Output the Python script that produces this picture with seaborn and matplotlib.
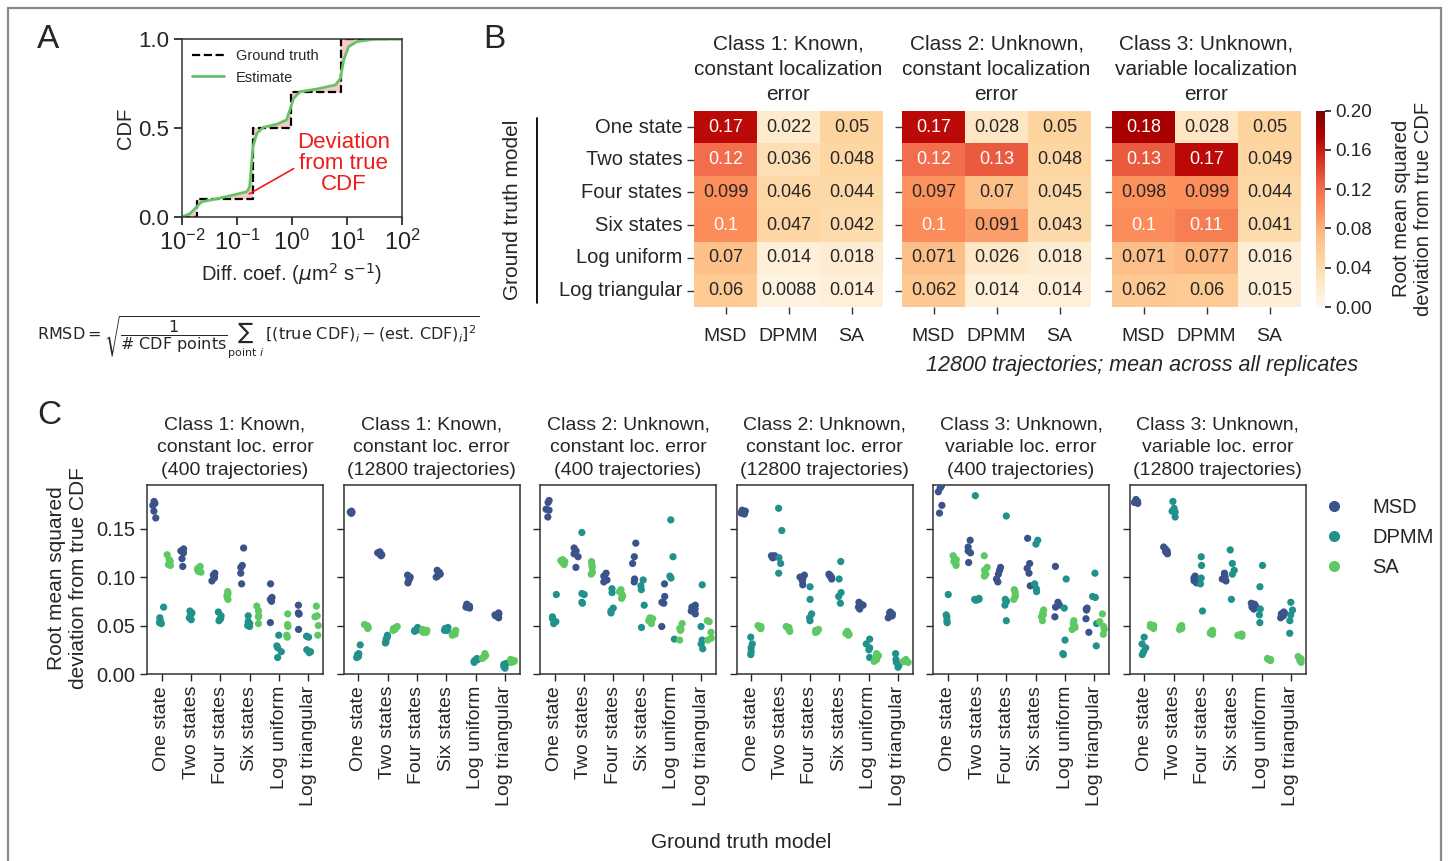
import numpy as np
import pandas as pd
import matplotlib
matplotlib.use("Agg")
import matplotlib.pyplot as plt
import seaborn as sns
from matplotlib.patches import Rectangle
from matplotlib.lines import Line2D

# ---------------- data ----------------
# Panel A: ground-truth step CDF and estimated CDF
gt_x = [0.01, 0.019, 0.195, 0.96, 7.8, 100]
gt_y = [0.0, 0.1, 0.5, 0.7, 1.0, 1.0]
est_x = [0.01, 0.0141, 0.0186, 0.0229, 0.038, 0.087, 0.151, 0.170, 0.178, 0.195,
         0.229, 0.302, 0.537, 0.794, 0.912, 1.07, 1.41, 2.82, 6.17, 7.59, 8.71,
         10.7, 15.1, 30.2, 100]
est_y = [0.0, 0.02, 0.058, 0.086, 0.099, 0.124, 0.142, 0.17, 0.245, 0.395,
         0.47, 0.504, 0.522, 0.545, 0.60, 0.667, 0.704, 0.719, 0.742, 0.779, 0.882,
         0.957, 0.985, 0.998, 1.0]

# Panel B: mean RMSD heatmaps (12800 trajectories)
models = ['One state', 'Two states', 'Four states', 'Six states', 'Log uniform', 'Log triangular']
methods = ['MSD', 'DPMM', 'SA']
hm_class1 = [[0.17, 0.022, 0.05], [0.12, 0.036, 0.048], [0.099, 0.046, 0.044],
             [0.1, 0.047, 0.042], [0.07, 0.014, 0.018], [0.06, 0.0088, 0.014]]
hm_class2 = [[0.17, 0.028, 0.05], [0.12, 0.13, 0.048], [0.097, 0.07, 0.045],
             [0.1, 0.091, 0.043], [0.071, 0.026, 0.018], [0.062, 0.014, 0.014]]
hm_class3 = [[0.18, 0.028, 0.05], [0.13, 0.17, 0.049], [0.098, 0.099, 0.044],
             [0.1, 0.11, 0.041], [0.071, 0.077, 0.016], [0.062, 0.06, 0.015]]
hm_titles = ['Class 1: Known,\nconstant localization\nerror',
             'Class 2: Unknown,\nconstant localization\nerror',
             'Class 3: Unknown,\nvariable localization\nerror']

# Panel C: per-replicate RMSD (rows = ground truth models, 5 replicates each)
c1_400_msd = [[0.178, 0.176, 0.174, 0.168, 0.161], [0.129, 0.127, 0.125, 0.119, 0.111], [0.104, 0.102, 0.100, 0.099, 0.096],
              [0.130, 0.112, 0.110, 0.104, 0.093], [0.093, 0.079, 0.077, 0.075, 0.053], [0.071, 0.063, 0.062, 0.062, 0.046]]
c1_400_dpmm = [[0.069, 0.058, 0.055, 0.053, 0.052], [0.065, 0.063, 0.061, 0.058, 0.056], [0.064, 0.060, 0.057, 0.056, 0.055],
               [0.060, 0.054, 0.052, 0.050, 0.049], [0.040, 0.029, 0.027, 0.023, 0.017], [0.039, 0.038, 0.025, 0.023, 0.022]]
c1_400_sa = [[0.123, 0.118, 0.116, 0.113, 0.112], [0.111, 0.109, 0.108, 0.106, 0.105], [0.085, 0.083, 0.081, 0.079, 0.077],
             [0.070, 0.065, 0.060, 0.059, 0.052], [0.062, 0.051, 0.049, 0.040, 0.038], [0.070, 0.060, 0.059, 0.050, 0.040]]

c1_12800_msd = [[0.168, 0.167, 0.167, 0.166, 0.166], [0.126, 0.125, 0.124, 0.123, 0.122], [0.102, 0.100, 0.099, 0.097, 0.094],
                [0.107, 0.105, 0.103, 0.101, 0.100], [0.072, 0.071, 0.070, 0.069, 0.068], [0.063, 0.062, 0.061, 0.060, 0.058]]
c1_12800_dpmm = [[0.030, 0.021, 0.020, 0.018, 0.017], [0.040, 0.038, 0.036, 0.033, 0.032], [0.048, 0.046, 0.045, 0.045, 0.044],
                 [0.048, 0.047, 0.046, 0.045, 0.045], [0.016, 0.015, 0.014, 0.013, 0.012], [0.011, 0.010, 0.008, 0.007, 0.006]]
c1_12800_sa = [[0.051, 0.050, 0.049, 0.048, 0.047], [0.049, 0.048, 0.047, 0.046, 0.045], [0.046, 0.045, 0.044, 0.043, 0.043],
               [0.045, 0.044, 0.042, 0.041, 0.040], [0.021, 0.019, 0.018, 0.017, 0.016], [0.015, 0.014, 0.013, 0.013, 0.012]]

c2_400_msd = [[0.179, 0.177, 0.170, 0.169, 0.162], [0.130, 0.127, 0.124, 0.121, 0.110], [0.104, 0.101, 0.100, 0.097, 0.095],
              [0.135, 0.121, 0.114, 0.098, 0.095], [0.093, 0.080, 0.074, 0.073, 0.049], [0.071, 0.069, 0.067, 0.065, 0.062]]
c2_400_dpmm = [[0.082, 0.059, 0.057, 0.054, 0.052], [0.146, 0.083, 0.082, 0.074, 0.073], [0.088, 0.084, 0.068, 0.065, 0.063],
               [0.097, 0.091, 0.087, 0.071, 0.048], [0.159, 0.121, 0.101, 0.099, 0.036], [0.092, 0.049, 0.035, 0.031, 0.026]]
c2_400_sa = [[0.118, 0.117, 0.116, 0.115, 0.113], [0.116, 0.113, 0.110, 0.105, 0.103], [0.087, 0.085, 0.082, 0.080, 0.078],
             [0.058, 0.057, 0.056, 0.055, 0.052], [0.052, 0.047, 0.046, 0.045, 0.035], [0.055, 0.054, 0.043, 0.037, 0.035]]

c2_12800_msd = [[0.169, 0.168, 0.167, 0.166, 0.165], [0.122, 0.122, 0.121, 0.120, 0.120], [0.102, 0.100, 0.098, 0.096, 0.092],
                [0.103, 0.102, 0.101, 0.100, 0.098], [0.074, 0.072, 0.071, 0.069, 0.067], [0.064, 0.063, 0.062, 0.060, 0.058]]
c2_12800_dpmm = [[0.038, 0.031, 0.027, 0.023, 0.020], [0.171, 0.148, 0.120, 0.114, 0.104], [0.090, 0.077, 0.062, 0.058, 0.055],
                 [0.116, 0.098, 0.084, 0.080, 0.073], [0.036, 0.031, 0.027, 0.025, 0.017], [0.021, 0.015, 0.012, 0.009, 0.007]]
c2_12800_sa = [[0.050, 0.049, 0.048, 0.047, 0.047], [0.049, 0.048, 0.047, 0.046, 0.044], [0.046, 0.045, 0.044, 0.043, 0.043],
               [0.044, 0.043, 0.042, 0.041, 0.040], [0.021, 0.019, 0.017, 0.015, 0.013], [0.015, 0.014, 0.013, 0.013, 0.012]]

c3_400_msd = [[0.194, 0.192, 0.188, 0.174, 0.166], [0.138, 0.131, 0.127, 0.125, 0.115], [0.110, 0.107, 0.103, 0.098, 0.095],
              [0.140, 0.114, 0.109, 0.104, 0.091], [0.111, 0.074, 0.071, 0.069, 0.059], [0.068, 0.067, 0.066, 0.057, 0.043]]
c3_400_dpmm = [[0.082, 0.061, 0.059, 0.055, 0.053], [0.184, 0.078, 0.077, 0.077, 0.076], [0.163, 0.077, 0.075, 0.071, 0.055],
               [0.138, 0.134, 0.093, 0.088, 0.085], [0.098, 0.068, 0.035, 0.021, 0.020], [0.104, 0.080, 0.079, 0.052, 0.029]]
c3_400_sa = [[0.122, 0.118, 0.116, 0.114, 0.112], [0.122, 0.110, 0.107, 0.103, 0.101], [0.087, 0.085, 0.082, 0.080, 0.077],
             [0.066, 0.063, 0.061, 0.059, 0.055], [0.055, 0.052, 0.050, 0.048, 0.046], [0.062, 0.054, 0.049, 0.046, 0.041]]

c3_12800_msd = [[0.180, 0.179, 0.178, 0.177, 0.176], [0.131, 0.129, 0.127, 0.126, 0.124], [0.101, 0.099, 0.098, 0.096, 0.094],
                [0.104, 0.102, 0.100, 0.098, 0.096], [0.073, 0.072, 0.070, 0.069, 0.067], [0.064, 0.063, 0.062, 0.060, 0.058]]
c3_12800_dpmm = [[0.038, 0.031, 0.027, 0.023, 0.020], [0.178, 0.171, 0.168, 0.167, 0.162], [0.121, 0.112, 0.099, 0.093, 0.065],
                 [0.128, 0.114, 0.107, 0.103, 0.077], [0.112, 0.090, 0.067, 0.061, 0.053], [0.074, 0.066, 0.061, 0.055, 0.042]]
c3_12800_sa = [[0.051, 0.050, 0.049, 0.048, 0.047], [0.050, 0.049, 0.048, 0.047, 0.046], [0.045, 0.044, 0.043, 0.042, 0.041],
               [0.041, 0.041, 0.040, 0.040, 0.039], [0.016, 0.015, 0.015, 0.014, 0.014], [0.018, 0.016, 0.015, 0.014, 0.012]]

c_titles = ['Class 1: Known,\nconstant loc. error\n(400 trajectories)',
            'Class 1: Known,\nconstant loc. error\n(12800 trajectories)',
            'Class 2: Unknown,\nconstant loc. error\n(400 trajectories)',
            'Class 2: Unknown,\nconstant loc. error\n(12800 trajectories)',
            'Class 3: Unknown,\nvariable loc. error\n(400 trajectories)',
            'Class 3: Unknown,\nvariable loc. error\n(12800 trajectories)']

# ---------------- style ----------------
sns.set_theme(style="ticks")
plt.rcParams['font.family'] = ['Liberation Sans', 'DejaVu Sans']
plt.rcParams['axes.edgecolor'] = '#333333'
plt.rcParams['axes.linewidth'] = 1.1
np.random.seed(3)

W, H = 1448, 861
fig = plt.figure(figsize=(W / 100, H / 100), dpi=100)


def px_axes(left, top, width, height):
    return fig.add_axes([left / W, 1 - (top + height) / H, width / W, height / H])


# outer frame
fig.add_artist(Rectangle((8 / W, -0.05), (1441 - 8) / W, 1 - 8 / H + 0.05,
                         transform=fig.transFigure, fill=False, edgecolor='#8a8a8a', lw=1.6))

# panel letters
fig.text(37 / W, 1 - 40 / H, 'A', fontsize=24, va='center', ha='left')
fig.text(483 / W, 1 - 40 / H, 'B', fontsize=24, va='center', ha='left')
fig.text(37 / W, 1 - 415 / H, 'C', fontsize=24, va='center', ha='left')

# ---------------- Panel A ----------------
axA = px_axes(182, 39, 220, 178)
poly_x, poly_y = [], []
for i in range(len(gt_x) - 1):
    poly_x += [gt_x[i], gt_x[i + 1]]
    poly_y += [gt_y[i], gt_y[i]]
poly_x += est_x[::-1]
poly_y += est_y[::-1]
axA.fill(poly_x, poly_y, color='#f4a6a6', alpha=0.6, lw=0)
sns.lineplot(x=gt_x, y=gt_y, drawstyle='steps-post', ls='--', color='black', lw=1.6,
             label='Ground truth', ax=axA, sort=False)
sns.lineplot(x=est_x, y=est_y, color='#66c266', lw=2.0, label='Estimate', ax=axA, sort=False)
axA.set_xscale('log')
axA.set_xlim(0.01, 100)
axA.set_ylim(0, 1)
axA.set_yticks([0, 0.5, 1.0])
axA.set_xticks([0.01, 0.1, 1, 10, 100])
axA.minorticks_off()
axA.tick_params(axis='y', labelsize=16)
axA.tick_params(axis='x', labelsize=17)
axA.set_ylabel('CDF', fontsize=14.5, labelpad=2)
axA.set_xlabel(r'Diff. coef. ($\mu$m$^2$ s$^{-1}$)', fontsize=14.5, labelpad=4)
axA.legend(loc='upper left', frameon=False, fontsize=10.5, handlelength=2.2,
           borderaxespad=0.3, labelspacing=0.5)
axA.annotate('Deviation\nfrom true\nCDF', xy=(0.167, 0.13), xytext=(8.6, 0.30),
             color='#ee1c1c', fontsize=16, ha='center', va='center', linespacing=1.0,
             arrowprops=dict(arrowstyle='-', color='#ee1c1c', lw=1.2, shrinkA=0, shrinkB=0,
                             relpos=(0.0, 0.45)))

fig.text(37 / W, 1 - 338 / H,
         r'$\mathrm{RMSD} = \sqrt{\dfrac{1}{\text{# CDF points}}\sum_{\text{point }i}'
         r'\,[(\text{true CDF})_i - (\text{est. CDF})_i]^2}$',
         fontsize=11.5, va='center', ha='left')

# ---------------- Panel B ----------------
hm_lefts = [694, 902, 1112]
hm_data = [hm_class1, hm_class2, hm_class3]
cax = px_axes(1316, 110.7, 9, 196.3)
for i in range(3):
    ax = px_axes(hm_lefts[i], 110.7, 189, 196.3)
    df = pd.DataFrame(hm_data[i], index=models, columns=methods)
    sns.heatmap(df, ax=ax, cmap='OrRd', vmin=0, vmax=0.2, annot=True, fmt='.2g',
                annot_kws={'fontsize': 13},
                cbar=(i == 2), cbar_ax=cax if i == 2 else None,
                cbar_kws={'ticks': [0, 0.04, 0.08, 0.12, 0.16, 0.20]} if i == 2 else None)
    for t in ax.texts:
        v = float(t.get_text())
        t.set_color('white' if v >= 0.1 else '#262626')
    ax.tick_params(axis='both', length=5, width=1, color='#333333')
    ax.set_xticklabels(methods, rotation=0, fontsize=14)
    if i == 0:
        ax.set_yticklabels(models, rotation=0, fontsize=14.5)
    else:
        ax.set_yticklabels([])
    ax.tick_params(axis='x', pad=10)
    ax.set_xlabel('')
    ax.set_ylabel('')
    ax.set_title(hm_titles[i], fontsize=15, pad=8, linespacing=1.4)

cax.tick_params(length=4)
cax.set_yticklabels(['0.00', '0.04', '0.08', '0.12', '0.16', '0.20'], fontsize=13.5)
cax.set_ylabel('Root mean squared\ndeviation from true CDF', fontsize=14.5, labelpad=14)

fig.text(512 / W, 1 - 210 / H, 'Ground truth model', rotation=90, fontsize=15,
         ha='center', va='center')
fig.add_artist(Line2D([537 / W, 537 / W], [1 - 118 / H, 1 - 303 / H],
                      color='black', lw=1.3, transform=fig.transFigure))
fig.text(1358 / W, 1 - 365 / H, '12800 trajectories; mean across all replicates',
         style='italic', ha='right', va='center', fontsize=15.5)

# ---------------- Panel C ----------------
pal = sns.color_palette('viridis', 3)
strip_sets = [
    (c1_400_msd, c1_400_dpmm, c1_400_sa),
    (c1_12800_msd, c1_12800_dpmm, c1_12800_sa),
    (c2_400_msd, c2_400_dpmm, c2_400_sa),
    (c2_12800_msd, c2_12800_dpmm, c2_12800_sa),
    (c3_400_msd, c3_400_dpmm, c3_400_sa),
    (c3_12800_msd, c3_12800_dpmm, c3_12800_sa),
]
for k, sets in enumerate(strip_sets):
    ax = px_axes(147 + k * 196.5, 485, 176, 189)
    recs = []
    for meth, arr in zip(methods, sets):
        for mdl, vals in zip(models, arr):
            for v in vals:
                recs.append({'model': mdl, 'method': meth, 'rmsd': v})
    df = pd.DataFrame(recs)
    sns.stripplot(data=df, x='model', y='rmsd', hue='method', order=models,
                  hue_order=methods, palette=pal, dodge=True, jitter=0.25, size=5.2,
                  linewidth=0, ax=ax, legend=False)
    ax.set_ylim(0, 0.195)
    ax.set_yticks([0, 0.05, 0.10, 0.15])
    if k == 0:
        ax.set_yticklabels(['0.00', '0.05', '0.10', '0.15'], fontsize=14.5)
    else:
        ax.set_yticklabels([])
    ax.set_xticks(range(len(models)))
    ax.set_xticklabels(models, rotation=90, fontsize=14)
    ax.tick_params(length=5, width=1)
    ax.set_xlabel('')
    ax.set_ylabel('')
    ax.set_title(c_titles[k], fontsize=14, pad=7, linespacing=1.45)

fig.text(67 / W, 1 - 578 / H, 'Root mean squared\ndeviation from true CDF', rotation=90,
         fontsize=15, ha='center', va='center', linespacing=1.2)
fig.text(741 / W, 1 - 842 / H, 'Ground truth model', fontsize=15, ha='center', va='center')

handles = [Line2D([], [], marker='o', ls='', color=c, markersize=7) for c in pal]
fig.legend(handles, methods, loc='upper left', bbox_to_anchor=(1306 / W, 1 - 480 / H),
           frameon=False, fontsize=14.5, handlelength=1.0, handletextpad=1.4,
           labelspacing=0.55)

fig.savefig('out.png', dpi=100)
